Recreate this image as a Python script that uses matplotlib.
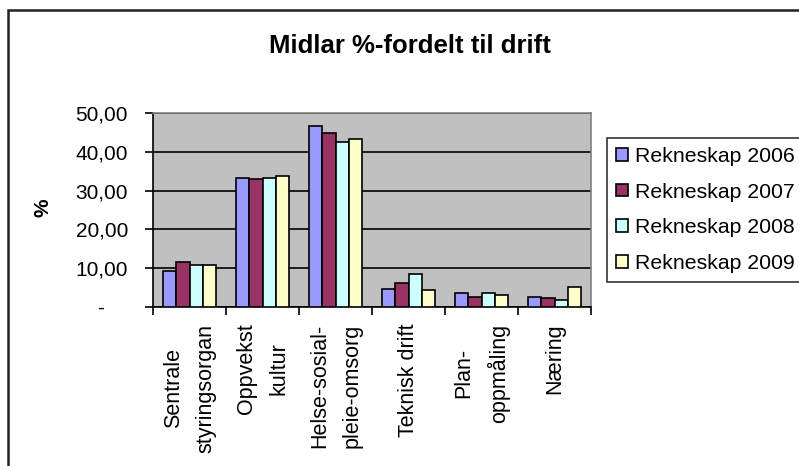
import numpy as np
import matplotlib.pyplot as plt
from matplotlib.patches import Rectangle

plt.rcParams['font.family'] = ['Liberation Sans', 'DejaVu Sans']

categories = ["Sentrale\nstyringsorgan", "Oppvekst\nkultur", "Helse-sosial-\npleie-omsorg",
              "Teknisk drift", "Plan-\noppmåling", "Næring"]
series_names = ["Rekneskap 2006", "Rekneskap 2007", "Rekneskap 2008", "Rekneskap 2009"]
r2006 = [9.4, 33.3, 46.6, 4.7, 3.5, 2.6]
r2007 = [11.6, 33.0, 44.9, 6.1, 2.65, 2.2]
r2008 = [10.7, 33.3, 42.4, 8.6, 3.5, 1.7]
r2009 = [10.7, 33.8, 43.2, 4.4, 3.0, 5.1]
y_ticks = [0, 10, 20, 30, 40, 50]
y_labels = ["-    ", "10,00", "20,00", "30,00", "40,00", "50,00"]

colors = ["#9999FF", "#993366", "#CCFFFF", "#FFFFCC"]

fig = plt.figure(figsize=(7.99, 4.66), dpi=100)
ax = fig.add_axes([153/799, 1-307/466, (591-153)/799, (307-113)/466])
ax.set_facecolor("#C0C0C0")

x = np.arange(len(categories))
w = 0.18
for i, vals in enumerate([r2006, r2007, r2008, r2009]):
    ax.bar(x + (i - 1.5) * w, vals, width=w, color=colors[i], edgecolor="black",
           linewidth=1.2, label=series_names[i], zorder=3)

ax.set_xlim(-0.5, 5.5)
ax.set_ylim(0, 50)
ax.set_yticks(y_ticks)
ax.set_yticklabels(y_labels, fontsize=15)
ax.yaxis.grid(True, color="black", linewidth=1.2, zorder=1)
ax.set_axisbelow(True)
ax.tick_params(axis="y", direction="out", length=6, width=1.2, pad=12)

ax.set_xticks(x)
ax.set_xticklabels(categories, rotation=90, fontsize=15.5, ha="center", va="top",
                   multialignment="center", linespacing=1.7)
ax.set_xticks(np.arange(-0.5, 6, 1), minor=True)
ax.tick_params(axis="x", which="major", length=0, pad=12)
ax.tick_params(axis="x", which="minor", direction="out", length=6, width=1.2)

for s in ["left", "bottom"]:
    ax.spines[s].set_color("black")
    ax.spines[s].set_linewidth(1.2)
for s in ["top", "right"]:
    ax.spines[s].set_color("#808080")
    ax.spines[s].set_linewidth(1.2)

fig.text(43/799, 1-208/466, "%", fontsize=15, fontweight="bold", rotation=90,
         ha="center", va="center")

fig.text(410/799, 1-46/466, "Midlar %-fordelt til drift", fontsize=18.5, fontweight="bold",
         ha="center", va="center")

leg = fig.legend(loc="upper left", bbox_to_anchor=(607/799, 1-138/466), fontsize=15.3,
                 frameon=True, fancybox=False, shadow=False, handlelength=0.55,
                 handleheight=0.55, handletextpad=0.35, labelspacing=0.78,
                 borderpad=0.42, borderaxespad=0)
leg.get_frame().set_edgecolor("black")
leg.get_frame().set_linewidth(1.2)

fig.patches.append(Rectangle((8/799, -0.2), 2.0, (466-10)/466 + 0.2, transform=fig.transFigure,
                             fill=False, edgecolor="#222222", linewidth=1.8))

fig.savefig("out.png", dpi=100)
